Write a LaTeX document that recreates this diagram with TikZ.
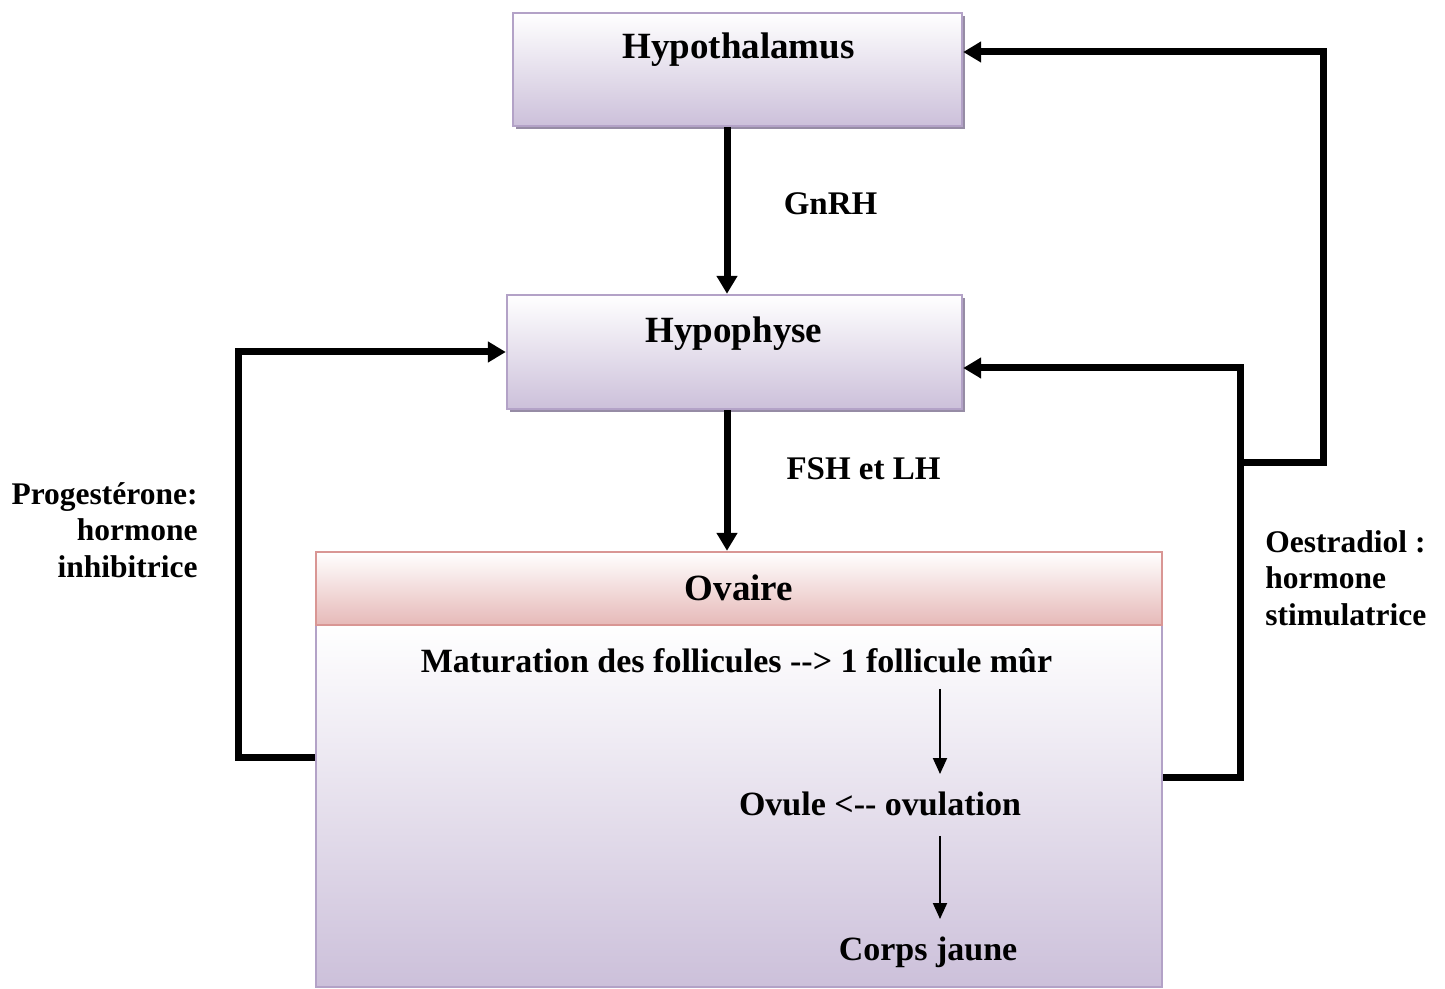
\documentclass[tikz,border=0pt]{standalone}
\usepackage{fontspec}
\setmainfont{Liberation Serif}
\usetikzlibrary{arrows.meta,shadows}
\definecolor{lav}{RGB}{204,192,218}
\definecolor{lavb}{RGB}{179,162,199}
\definecolor{pinkf}{RGB}{230,185,184}
\definecolor{pinkb}{RGB}{217,150,148}
\definecolor{shad}{RGB}{150,140,165}
\begin{document}
\begin{tikzpicture}[x=0.5pt,y=-0.5pt,
  box/.style={draw=lavb, line width=1.2pt, top color=white, bottom color=lav, inner sep=0pt},
  hdr/.style={draw=pinkb, line width=1.2pt, top color=white, bottom color=pinkf, inner sep=0pt},
  shd/.style={drop shadow={shadow xshift=1.6pt, shadow yshift=-1.6pt, fill=shad, opacity=1}},
  title/.style={font=\bfseries\fontsize{18.5}{22}\selectfont, inner sep=0pt, anchor=base},
  inner/.style={font=\bfseries\fontsize{17}{20}\selectfont, inner sep=0pt, anchor=base},
  lbl/.style={font=\bfseries\fontsize{16.5}{20}\selectfont, inner sep=0pt, anchor=base},
  side/.style={font=\bfseries\fontsize{15.75}{18.25}\selectfont, inner sep=0pt},
  thk/.style={line width=3.5pt, line join=miter, -{Triangle[length=9pt,width=10pt]}},
  thn/.style={line width=1pt, -{Triangle[length=8pt,width=7pt]}}]
\useasboundingbox (0,0) rectangle (1445,989);
% boxes
\node[box, shd, minimum width=224.5pt, minimum height=56.5pt] (hyt) at (737.5,69.5) {};
\node[box, shd, minimum width=227.5pt, minimum height=57pt] (hyp) at (734.5,352) {};
\node[box, minimum width=423pt, minimum height=181pt] (ovb) at (739,806) {};
\node[hdr, minimum width=423pt, minimum height=36.5pt] (ovh) at (739,588.5) {};
% texts
\node[title] (thyt) at (738.5,59) {Hypothalamus};
\node[title] (thyp) at (734,343) {Hypophyse};
\node[title] (tov) at (739,600) {Ovaire};
\node[inner] (tmat) at (736.5,672) {Maturation des follicules -\kern0pt-> 1 follicule mûr};
\node[inner] (tovu) at (880,815) {Ovule <-\kern0pt- ovulation};
\node[inner] (tcj) at (928,960) {Corps jaune};
\node[lbl] (lg) at (830.5,215) {GnRH};
\node[lbl] (lf) at (863.5,479) {FSH et LH};
\node[side, align=right, anchor=east] (lp) at (198,530) {Progestérone:\\hormone\\inhibitrice};
\node[side, align=left, anchor=west] (lo) at (1265,578) {Oestradiol :\\hormone\\stimulatrice};
% coordinates
\coordinate (g) at (727,0);
\coordinate (tx) at (940,0);
\coordinate (oy) at (0,777);
\coordinate (ly) at (0,757);
\coordinate (r1) at (1240,368);
\coordinate (j) at (1240,462);
\coordinate (r2) at (1323,52);
\coordinate (l1) at (238,352);
% connectors
\draw[thk] (hyt.south -| g) -- (hyp.north -| g);
\draw[thk] (hyp.south -| g) -- (ovh.north -| g);
\draw[thk] (ovb.east |- oy) -| (r1) -- (hyp.east |- r1);
\draw[thk] (j) -| (r2) -- (hyt.east |- r2);
\draw[thk] (ovb.west |- ly) -| (l1) -- (hyp.west);
\draw[thn, shorten <=8pt, shorten >=8.5pt] (tmat.south -| tx) -- (tovu.north -| tx);
\draw[thn, shorten <=10pt, shorten >=8.5pt] (tovu.south -| tx) -- (tcj.north -| tx);
\end{tikzpicture}
\end{document}
